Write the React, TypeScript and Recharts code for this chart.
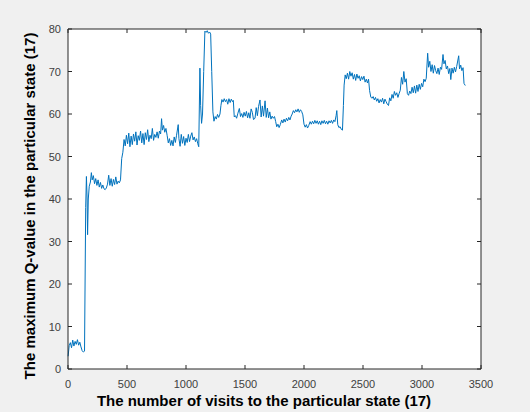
import { CartesianGrid, Label, Line, LineChart, XAxis, YAxis } from "recharts";

// visits to state 17 and the max Q-value read at each one
const visits = [
  1, 10, 20, 30, 40, 50, 60, 70, 80, 90, 100, 110, 120, 130, 140,
  150, 156, 162, 166, 172, 180, 190, 198, 205, 215, 225, 235, 245, 255, 265, 275, 285, 295, 305, 315, 325, 335, 345, 355, 365, 375, 385, 395, 405, 415, 425, 435, 445,
  455, 465, 475, 485, 495, 505, 515, 525, 535, 545, 555, 565, 575, 585, 595, 605, 615, 625, 635, 645, 655, 665, 675, 685, 695, 705, 715, 725, 735, 745, 755, 765, 775, 785, 793,
  800, 810, 820, 830, 840, 850, 860, 870, 880, 890, 900, 910, 920, 934, 940, 950, 960, 970, 980, 990, 1000, 1010, 1020, 1030, 1040, 1050, 1060, 1070, 1080, 1090, 1100, 1108,
  1118, 1124, 1132, 1140, 1150, 1160, 1170, 1180, 1190, 1200, 1209, 1218, 1228, 1237, 1247, 1257, 1267, 1277, 1288, 1296, 1304, 1314, 1324, 1334, 1344, 1354, 1364, 1374, 1384, 1394, 1401,
  1409, 1419, 1429, 1440, 1452, 1462, 1472, 1482, 1492, 1502, 1512, 1522, 1532, 1542, 1552, 1562, 1572, 1585, 1595, 1605, 1615, 1627, 1637, 1647, 1657, 1670, 1680, 1690, 1700, 1710, 1720, 1730, 1740, 1750, 1760,
  1769, 1779, 1789, 1799, 1811, 1821, 1831, 1841, 1851, 1861, 1871, 1881, 1891, 1900, 1910, 1920, 1930, 1940, 1950, 1960, 1970, 1980, 1990, 2000, 2010, 2020, 2030, 2040,
  2052, 2062, 2072, 2082, 2092, 2102, 2112, 2122, 2132, 2142, 2152, 2162, 2172, 2182, 2192, 2202, 2212, 2222, 2232, 2242, 2252, 2262, 2272, 2278, 2286, 2296, 2306, 2316, 2326,
  2334, 2340, 2349, 2358, 2368, 2378, 2388, 2398, 2408, 2418, 2428, 2438, 2448, 2458, 2468, 2478, 2488, 2498, 2508, 2518, 2528, 2538, 2547,
  2556, 2566, 2576, 2586, 2596, 2606, 2616, 2626, 2636, 2646, 2656, 2666, 2676, 2686, 2696, 2706, 2716, 2726, 2736, 2746, 2756, 2766, 2776, 2786, 2796, 2806, 2816,
  2826, 2836, 2846, 2856, 2866, 2876, 2886, 2896, 2906, 2916, 2926, 2936, 2946, 2956, 2966, 2976, 2986, 2996, 3006, 3016, 3026, 3036,
  3048, 3056, 3066, 3076, 3086, 3096, 3106, 3116, 3126, 3136, 3146, 3156, 3166, 3178, 3186, 3196, 3206, 3216, 3226, 3236, 3244, 3254, 3264, 3274, 3284, 3294,
  3311, 3318, 3328, 3338, 3348, 3356, 3367,
];

const maxQ = [
  3.0, 5.5, 6.2, 5.0, 6.8, 5.4, 6.5, 5.8, 6.9, 5.6, 6.3, 5.2, 4.3, 4.0, 4.2,
  38, 45.3, 40, 31.6, 40, 43, 44, 46.2, 44.5, 45.5, 43.6, 44.8, 43.2, 44.5, 42.8, 43.9, 42.5, 43.3, 42.4, 42.2, 42.6, 43.5, 45.6, 43.2, 44.8, 43.0, 44.6, 43.4, 45.2, 43.5, 44.2, 43.8, 44.5,
  49.5, 51, 54, 52.5, 55, 53, 55.5, 52.3, 54.8, 52.8, 55.3, 53.6, 55.8, 52.7, 54.9, 53.8, 56, 53.2, 55.4, 52.8, 55.6, 54, 56.3, 53.5, 55, 54.2, 56.6, 53.8, 55.2, 54.5, 55.8, 54.3, 56, 55.3, 58.9,
  56.2, 57.3, 55.7, 56.6, 55, 53.2, 54.2, 52.6, 53.8, 52.5, 54.6, 53.3, 55, 57.5, 54.2, 52.4, 55.2, 53.1, 54.7, 52.6, 54.3, 53.3, 55.2, 53.5, 54.8, 55.6, 53.9, 54.6, 53.5, 54.2, 53.0, 52.3,
  70.8, 62, 57.8, 60, 70, 79.5, 79.2, 79.6, 79.0, 79.3, 78.8, 70, 60.5, 58.3, 59.4, 58.8, 59.9, 59.2, 60.0, 62.0, 63.4, 62.8, 63.6, 62.9, 63.4, 62.3, 63.6, 62.7, 63.5, 62.9, 63.2,
  59.3, 59.6, 59.0, 60.2, 61.3, 59.4, 60.1, 59.2, 60.4, 59.5, 60.6, 59.1, 60.3, 59.0, 61.2, 60.4, 58.7, 59.0, 61.5, 59.6, 61.8, 63.3, 59.3, 61.9, 59.5, 63.1, 59.2, 61.4, 59.1, 60.5, 58.8, 59.5, 59.0, 59.4, 58.2,
  57.0, 57.6, 56.8, 57.5, 58.6, 57.9, 58.8, 58.1, 59.0, 58.4, 59.2, 58.6, 59.5, 60.0, 60.8, 60.3, 61.0, 60.5, 61.2, 60.4, 61.0, 60.6, 59.8, 57.6, 56.9, 57.5, 56.7, 57.3,
  58.2, 57.6, 58.3, 57.7, 58.5, 57.8, 58.4, 57.6, 58.3, 57.5, 58.4, 57.8, 58.5, 57.7, 58.3, 57.6, 58.4, 57.9, 58.5, 57.8, 58.6, 58.2, 59.6, 60.8, 57.5, 56.8, 57.0, 56.4, 56.2,
  62, 66.8, 69.2, 68.3, 69.6, 68.2, 70.0, 68.9, 69.7, 68.2, 69.3, 67.9, 69.4, 68.4, 69.0, 67.8, 68.8, 68.1, 68.9, 67.5, 68.2, 67.3, 68.2,
  65.5, 64.0, 63.7, 64.1, 63.3, 63.9, 63.0, 63.6, 62.6, 63.4, 62.8, 63.7, 62.4, 63.5, 62.9, 62.3, 62.0, 63.8, 63.1, 64.6, 63.7, 65.3, 64.4, 65.0, 63.9, 64.8, 65.6,
  68.6, 67.0, 70.0, 67.5, 68.3, 64.8, 64.4, 65.4, 64.8, 66.3, 65.0, 66.6, 64.9, 66.8, 65.3, 67.0, 65.8, 67.2, 66.4, 68.2, 67.6, 68.4,
  74.3, 71.0, 72.4, 70.0, 71.6, 69.6, 71.4, 70.2, 69.5, 70.8, 69.3, 71.0, 70.5, 74.0, 71.8, 72.6, 70.6, 71.3, 69.5, 70.7, 68.1, 70.8, 69.6, 71.0, 69.9, 71.2,
  73.7, 70.6, 71.5, 70.2, 70.9, 67.2, 66.7,
];

const xTicks = [0, 500, 1000, 1500, 2000, 2500, 3000, 3500];
const yTicks = [0, 10, 20, 30, 40, 50, 60, 70, 80];

const data = visits.map((v, i) => ({ visits: v, q: maxQ[i] }));

const FONT = "Arial, 'Liberation Sans', Helvetica, sans-serif";
const AXIS = "#262626";
const TICK_TEXT = "#404040";

// matlab style: ticks point into the box
const BottomTick = ({ x, y, payload }: any) => (
  <g>
    <line x1={x} x2={x} y1={y} y2={y - 4} stroke={AXIS} />
    <text x={x} y={y + 19} textAnchor="middle" fontSize={11} fill={TICK_TEXT} fontFamily={FONT}>
      {payload.value}
    </text>
  </g>
);

const TopTick = ({ x, y }: any) => <line x1={x} x2={x} y1={y} y2={y + 4} stroke={AXIS} />;

const LeftTick = ({ x, y, payload }: any) => (
  <g>
    <line x1={x} x2={x + 4} y1={y} y2={y} stroke={AXIS} />
    <text x={x - 7} y={y + 4} textAnchor="end" fontSize={11} fill={TICK_TEXT} fontFamily={FONT}>
      {payload.value}
    </text>
  </g>
);

const RightTick = ({ x, y }: any) => <line x1={x} x2={x - 4} y1={y} y2={y} stroke={AXIS} />;

const XTitle = () => (
  <text x={264} y={406} textAnchor="middle" fontSize={15} fontWeight="bold" fill="#000" fontFamily={FONT}>
    The number of visits to the particular state (17)
  </text>
);

const YTitle = () => (
  <text
    x={35}
    y={206}
    transform="rotate(-90 35 206)"
    textAnchor="middle"
    fontSize={15}
    fontWeight="bold"
    fill="#000"
    fontFamily={FONT}
  >
    The maximum Q-value in the particular state (17)
  </text>
);

export default function App() {
  return (
    <div style={{ position: "absolute", left: 0, top: 0, width: 530, height: 412, background: "#f0f0f0" }}>
      <LineChart width={530} height={412} data={data} margin={{ top: 28, right: 48, bottom: 0, left: 0 }}>
        <CartesianGrid fill="#ffffff" horizontal={false} vertical={false} stroke="none" />
        <XAxis
          dataKey="visits"
          type="number"
          domain={[0, 3500]}
          ticks={xTicks}
          height={43}
          tickSize={0}
          tickMargin={0}
          tickLine={false}
          tick={<BottomTick />}
          stroke={AXIS}
          interval={0}
        >
          <Label content={<XTitle />} />
        </XAxis>
        <XAxis
          xAxisId="top"
          orientation="top"
          dataKey="visits"
          type="number"
          domain={[0, 3500]}
          ticks={xTicks}
          height={1}
          tickSize={0}
          tickMargin={0}
          tickLine={false}
          tick={<TopTick />}
          stroke={AXIS}
          interval={0}
        />
        <YAxis
          type="number"
          domain={[0, 80]}
          ticks={yTicks}
          width={68}
          tickSize={0}
          tickMargin={0}
          tickLine={false}
          tick={<LeftTick />}
          stroke={AXIS}
          interval={0}
        >
          <Label content={<YTitle />} />
        </YAxis>
        <YAxis
          yAxisId="right"
          orientation="right"
          type="number"
          domain={[0, 80]}
          ticks={yTicks}
          width={1}
          tickSize={0}
          tickMargin={0}
          tickLine={false}
          tick={<RightTick />}
          stroke={AXIS}
          interval={0}
        />
        {/* invisible twin so the top / right axes of the box get drawn */}
        <Line
          xAxisId="top"
          yAxisId="right"
          dataKey="q"
          type="linear"
          stroke="none"
          dot={false}
          activeDot={false}
          legendType="none"
          isAnimationActive={false}
        />
        <Line
          dataKey="q"
          type="linear"
          stroke="#0072BD"
          strokeWidth={1}
          dot={false}
          activeDot={false}
          isAnimationActive={false}
        />
      </LineChart>
    </div>
  );
}
